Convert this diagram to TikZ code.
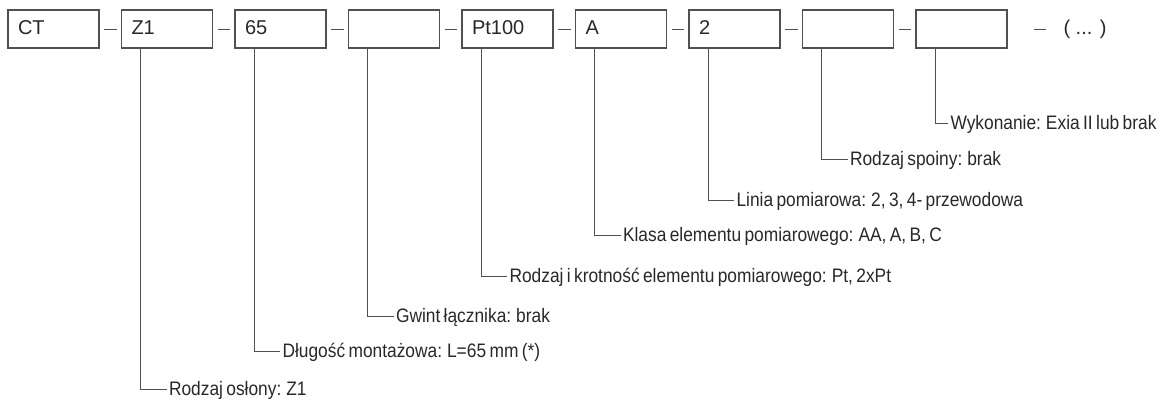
\documentclass[tikz,border=0pt]{standalone}
\usepackage{fontspec}
\setmainfont{Liberation Sans}
\newfontfamily\narrowfont[FakeStretch=0.89,WordSpace=0.7]{Liberation Sans}
\definecolor{linegray}{RGB}{80,80,80}
\definecolor{textgray}{RGB}{40,40,40}
\tikzset{every path/.style={line width=1pt},
  box/.style={draw=linegray, line width=1.3pt, minimum height=38pt, inner xsep=10pt, inner ysep=0pt,
    text width=71pt, align=left, text height=14.3pt, text depth=4pt, text=textgray, font=\fontsize{20}{24}\selectfont},
  more/.style={anchor=west, inner xsep=0pt, inner ysep=0pt, text height=14.3pt, text depth=4pt,
    text=textgray, font=\fontsize{20}{24}\selectfont},
  lab/.style={anchor=west, inner xsep=2pt, inner ysep=0pt, text height=13.6pt, text depth=0pt,
    text=textgray, font=\narrowfont\fontsize{19.5}{23}\selectfont},
  link/.style={shorten <=4.5pt, shorten >=4pt}}

\begin{document}
\begin{tikzpicture}[x=1pt,y=-1pt,color=linegray]
  \useasboundingbox (0,0) rectangle (1167,399);
  \node[box] (b1) at ( 53.5,29) {CT};
  \node[box] (b2) at (167,  29) {Z1};
  \node[box] (b3) at (280.5,29) {65};
  \node[box] (b4) at (394,  29) {};
  \node[box] (b5) at (507.5,29) {Pt100};
  \node[box] (b6) at (621,  29) {A};
  \node[box] (b7) at (734.5,29) {2};
  \node[box] (b8) at (848,  29) {};
  \node[box] (b9) at (961.5,29) {};
  \node[more] (etc) at (1063,29) {( ... )};
  \node[lab] (t2) at (166.5,389) {Rodzaj osłony: Z1};
  \node[lab] (t3) at (280,  351) {Długość montażowa: L=65 mm (*)};
  \node[lab] (t4) at (393.5,316) {Gwint łącznika: brak};
  \node[lab] (t5) at (507,  276) {Rodzaj i krotność elementu pomiarowego: Pt, 2xPt};
  \node[lab] (t6) at (620.5,235) {Klasa elementu pomiarowego: AA, A, B, C};
  \node[lab] (t7) at (734,  200) {Linia pomiarowa: 2, 3, 4- przewodowa};
  \node[lab] (t8) at (847.5,159) {Rodzaj spoiny: brak};
  \node[lab] (t9) at (948,  123) {Wykonanie: Exia II lub brak};
  \draw[link] (b1) -- (b2);
  \draw[link] (b2) -- (b3);
  \draw[link] (b3) -- (b4);
  \draw[link] (b4) -- (b5);
  \draw[link] (b5) -- (b6);
  \draw[link] (b6) -- (b7);
  \draw[link] (b7) -- (b8);
  \draw[link] (b8) -- (b9);
  \draw[shorten <=26pt, shorten >=17pt] (b9.east) -- (etc.west);
  \draw ([xshift=20pt]b2.south west) |- (t2.west);
  \draw ([xshift=20pt]b3.south west) |- (t3.west);
  \draw ([xshift=20pt]b4.south west) |- (t4.west);
  \draw ([xshift=20pt]b5.south west) |- (t5.west);
  \draw ([xshift=20pt]b6.south west) |- (t6.west);
  \draw ([xshift=20pt]b7.south west) |- (t7.west);
  \draw ([xshift=20pt]b8.south west) |- (t8.west);
  \draw ([xshift=20pt]b9.south west) |- (t9.west);
\end{tikzpicture}
\end{document}
